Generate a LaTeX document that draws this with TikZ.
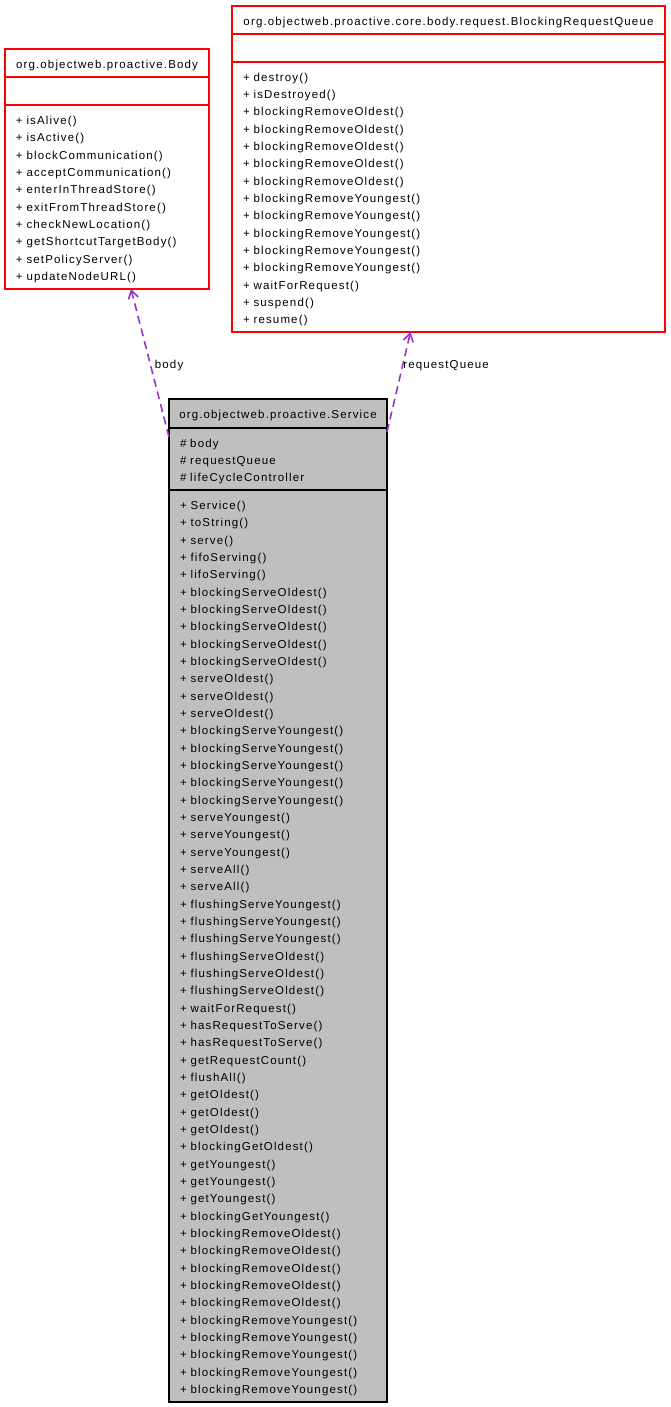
\documentclass[tikz,border=0pt]{standalone}
\usepackage{fontspec}
\setmainfont{Liberation Sans}[LetterSpace=10]
\usetikzlibrary{positioning, arrows.meta}
\definecolor{usage}{HTML}{9A32CD}
\definecolor{svcgray}{HTML}{BFBFBF}

\tikzset{
  part/.style={draw=red, line width=1.2pt, fill=white, outer sep=0pt, inner sep=0pt,
    execute at begin node={\rule{0pt}{13.3pt}}},
  main/.style={part, draw=black, fill=svcgray},
  title/.style={minimum height=28pt},
  members/.style={align=left, inner xsep=11pt},
  uses/.style={draw=usage, line width=1.6pt, dash pattern=on 8pt off 5pt,
    -{Straight Barb[length=8pt,width=10pt]}}
}

\begin{document}
\begin{tikzpicture}[x=1pt, y=-1pt, font=\fontsize{11.5pt}{17.33pt}\selectfont]
  \useasboundingbox (0,0) rectangle (671,1407);

  % org.objectweb.proactive.Body
  \node[part, title, minimum width=204pt, anchor=north west] (bodyT) at (5,49) {org.objectweb.proactive.Body};
  \node[part, title, minimum width=204pt, below=0pt of bodyT] (bodyA) {};
  \node[part, members, text width=182pt, minimum height=184pt, below=0pt of bodyA] (bodyM) {+ isAlive()\\
    + isActive()\\
    + blockCommunication()\\
    + acceptCommunication()\\
    + enterInThreadStore()\\
    + exitFromThreadStore()\\
    + checkNewLocation()\\
    + getShortcutTargetBody()\\
    + setPolicyServer()\\
    + updateNodeURL()};

  % org.objectweb.proactive.core.body.request.BlockingRequestQueue
  \node[part, title, minimum width=433pt, anchor=north west] (queueT) at (232,6) {org.objectweb.proactive.core.body.request.BlockingRequestQueue};
  \node[part, title, minimum width=433pt, below=0pt of queueT] (queueA) {};
  \node[part, members, text width=411pt, minimum height=270pt, below=0pt of queueA] (queueM) {+ destroy()\\
    + isDestroyed()\\
    + blockingRemoveOldest()\\
    + blockingRemoveOldest()\\
    + blockingRemoveOldest()\\
    + blockingRemoveOldest()\\
    + blockingRemoveOldest()\\
    + blockingRemoveYoungest()\\
    + blockingRemoveYoungest()\\
    + blockingRemoveYoungest()\\
    + blockingRemoveYoungest()\\
    + blockingRemoveYoungest()\\
    + waitForRequest()\\
    + suspend()\\
    + resume()};

  % org.objectweb.proactive.Service
  \node[main, minimum height=29pt, minimum width=218pt, anchor=north west] (svcT) at (169,399) {org.objectweb.proactive.Service};
  \node[main, members, text width=196pt, minimum height=62pt, below=0pt of svcT] (svcA) {\# body\\
    \# requestQueue\\
    \# lifeCycleController};
  \node[main, members, text width=196pt, minimum height=912pt, below=0pt of svcA] (svcM) {+ Service()\\
    + toString()\\
    + serve()\\
    + fifoServing()\\
    + lifoServing()\\
    + blockingServeOldest()\\
    + blockingServeOldest()\\
    + blockingServeOldest()\\
    + blockingServeOldest()\\
    + blockingServeOldest()\\
    + serveOldest()\\
    + serveOldest()\\
    + serveOldest()\\
    + blockingServeYoungest()\\
    + blockingServeYoungest()\\
    + blockingServeYoungest()\\
    + blockingServeYoungest()\\
    + blockingServeYoungest()\\
    + serveYoungest()\\
    + serveYoungest()\\
    + serveYoungest()\\
    + serveAll()\\
    + serveAll()\\
    + flushingServeYoungest()\\
    + flushingServeYoungest()\\
    + flushingServeYoungest()\\
    + flushingServeOldest()\\
    + flushingServeOldest()\\
    + flushingServeOldest()\\
    + waitForRequest()\\
    + hasRequestToServe()\\
    + hasRequestToServe()\\
    + getRequestCount()\\
    + flushAll()\\
    + getOldest()\\
    + getOldest()\\
    + getOldest()\\
    + blockingGetOldest()\\
    + getYoungest()\\
    + getYoungest()\\
    + getYoungest()\\
    + blockingGetYoungest()\\
    + blockingRemoveOldest()\\
    + blockingRemoveOldest()\\
    + blockingRemoveOldest()\\
    + blockingRemoveOldest()\\
    + blockingRemoveOldest()\\
    + blockingRemoveYoungest()\\
    + blockingRemoveYoungest()\\
    + blockingRemoveYoungest()\\
    + blockingRemoveYoungest()\\
    + blockingRemoveYoungest()};

  % usage relations
  \draw[uses] ([yshift=-38pt]svcT.north west) -- node[right, pos=0.48] (bodyL) {body} ([xshift=24pt]bodyM.south);
  \draw[uses] ([yshift=-33pt]svcT.north east) -- node[right, pos=0.66, inner sep=0pt] (queueL) {requestQueue} ([xshift=-38pt]queueM.south);

\end{tikzpicture}
\end{document}
